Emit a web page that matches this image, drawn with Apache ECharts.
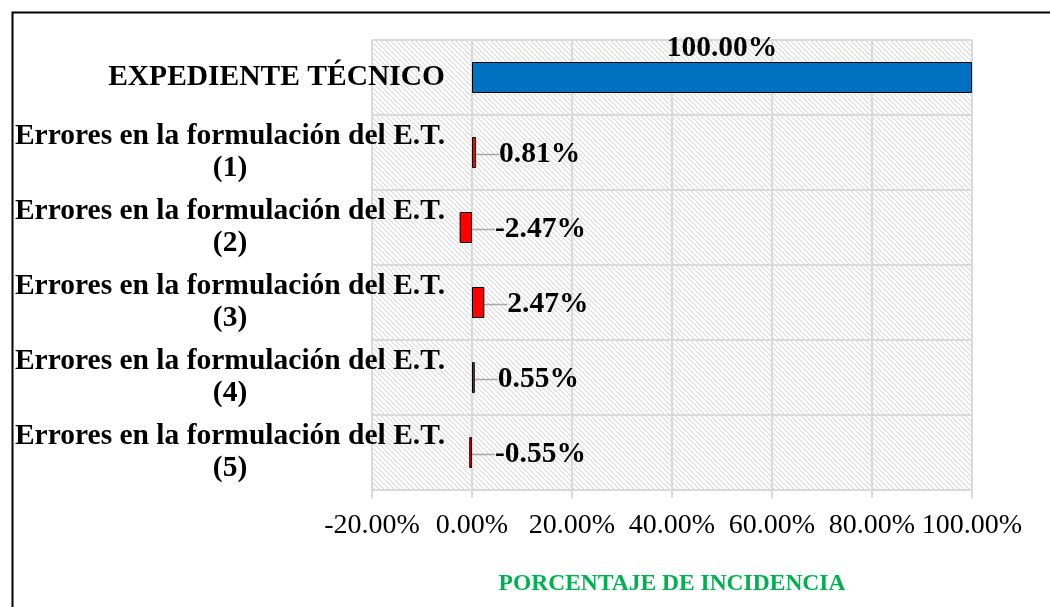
<!DOCTYPE html>
<html lang="es">
    <head>
        <meta charset="utf-8">
        <title>Porcentaje de incidencia</title>
        <script src="https://cdn.jsdelivr.net/npm/echarts@6/dist/echarts.min.js"></script>
        <style>
            html, body { margin: 0; padding: 0; background: #fff; }
            #chart { width: 1050px; height: 607px; }
        </style>
    </head>
    <body>
        <div id="chart"></div>
        <script>
            // datos (porcentaje)
            var categorias = [
                'EXPEDIENTE TÉCNICO',
                'Errores en la formulación del E.T.\n(1)',
                'Errores en la formulación del E.T.\n(2)',
                'Errores en la formulación del E.T.\n(3)',
                'Errores en la formulación del E.T.\n(4)',
                'Errores en la formulación del E.T.\n(5)'
            ];
            var valores = [100, 0.81, -2.47, 2.47, 0.55, -0.55];
            var colores = ['#0070c0', '#ff0000', '#ff0000', '#ff0000', '#ff0000', '#ff0000'];
            var ejeMin = -20, ejeMax = 100, ejePaso = 20;

            var fuente = '"Liberation Serif", "Times New Roman", serif';

            // trama rayada del fondo
            var trama = document.createElement('canvas');
            trama.width = 5;
            trama.height = 5;
            var ctx = trama.getContext('2d');
            ctx.fillStyle = '#ffffff';
            ctx.fillRect(0, 0, 5, 5);
            ctx.strokeStyle = '#dadada';
            ctx.lineWidth = 1.2;
            ctx.beginPath();
            ctx.moveTo(-1, -1); ctx.lineTo(6, 6);
            ctx.moveTo(-1, 4); ctx.lineTo(1, 6);
            ctx.moveTo(4, -1); ctx.lineTo(6, 1);
            ctx.stroke();

            var datos = valores.map(function (v, i) {
                var item = {
                    value: v,
                    itemStyle: { color: colores[i] }
                };
                if (i === 0) {
                    item.label = { position: 'top', distance: -1 };
                    item.labelLine = { show: false };
                }
                return item;
            });

            var grafico = echarts.init(document.getElementById('chart'));

            grafico.setOption({
                animation: false,
                graphic: [{
                    type: 'rect',
                    left: 10,
                    top: 10,
                    z: -10,
                    shape: { width: 1100, height: 700 },
                    style: { fill: null, stroke: '#000', lineWidth: 2 }
                }],
                grid: {
                    left: 372,
                    right: 78,
                    top: 40,
                    bottom: 117,
                    containLabel: false,
                    outerBoundsMode: 'none',
                    show: true,
                    borderWidth: 0,
                    backgroundColor: { image: trama, repeat: 'repeat' }
                },
                xAxis: {
                    type: 'value',
                    min: ejeMin,
                    max: ejeMax,
                    interval: ejePaso,
                    name: 'PORCENTAJE DE INCIDENCIA',
                    nameLocation: 'middle',
                    nameGap: 82,
                    nameTextStyle: {
                        color: '#00b050',
                        fontFamily: fuente,
                        fontWeight: 'bold',
                        fontSize: 23.5
                    },
                    axisLine: { show: true, lineStyle: { color: '#d9d9d9', width: 2 } },
                    axisTick: { show: true, length: 8, lineStyle: { color: '#d9d9d9', width: 2 } },
                    splitLine: { show: true, lineStyle: { color: '#d9d9d9', width: 2 } },
                    axisLabel: {
                        color: '#000',
                        fontFamily: fuente,
                        fontSize: 28,
                        margin: 22,
                        formatter: function (v) { return v.toFixed(2) + '%'; }
                    }
                },
                yAxis: {
                    type: 'category',
                    inverse: true,
                    data: categorias,
                    axisLine: { show: true, lineStyle: { color: '#d9d9d9', width: 2 } },
                    axisTick: { show: false },
                    splitLine: { show: true, lineStyle: { color: '#d9d9d9', width: 2 } },
                    axisLabel: {
                        color: '#000',
                        fontFamily: fuente,
                        fontSize: 29.5,
                        fontWeight: 'bold',
                        margin: -73, // los rotulos se meten en el area hasta cerca del 0 %
                        formatter: function (v) {
                            if (v.indexOf('\n') < 0) return v;
                            return v.split('\n').map(function (s) { return '{m|' + s + '}'; }).join('\n');
                        },
                        rich: {
                            m: {
                                width: 430,
                                align: 'center',
                                lineHeight: 32,
                                color: '#000',
                                fontFamily: fuente,
                                fontSize: 29.5,
                                fontWeight: 'bold'
                            }
                        }
                    }
                },
                series: [{
                    type: 'bar',
                    data: datos,
                    barWidth: 31,
                    itemStyle: { borderColor: '#000', borderWidth: 1 },
                    label: {
                        show: true,
                        position: 'right',
                        color: '#000',
                        fontFamily: fuente,
                        fontSize: 29.5,
                        fontWeight: 'bold',
                        formatter: function (p) { return p.value.toFixed(2) + '%'; }
                    },
                    labelLine: { show: true, lineStyle: { color: '#a6a6a6', width: 1.5 } },
                    labelLayout: function (p) {
                        if (p.dataIndex === 0) return {};
                        return { dx: p.rect.x + p.rect.width + 23 - p.labelRect.x, dy: 2 };
                    }
                }]
            });
        </script>
    </body>
</html>
